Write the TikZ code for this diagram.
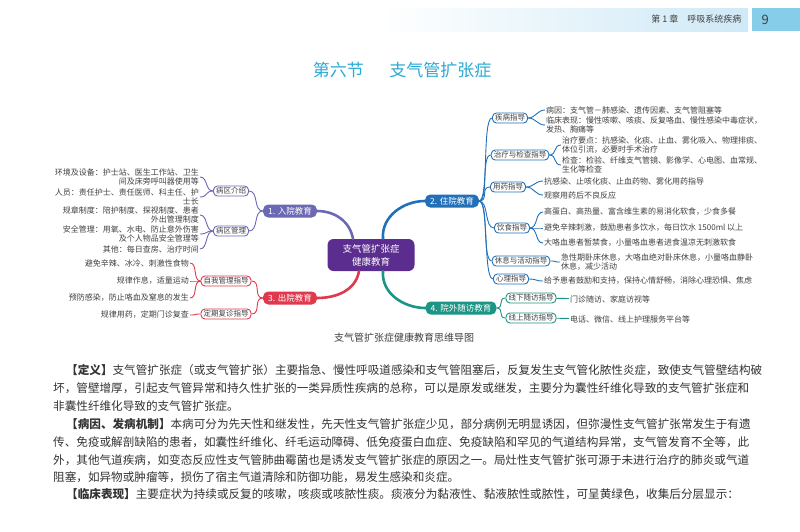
\documentclass[tikz,border=0pt]{standalone}
\usepackage{fontspec}
\setmainfont{Noto Sans CJK SC}
\usepackage{tikz}
\definecolor{hubc}{HTML}{5B2D8E}
\definecolor{onec}{HTML}{6B68B4}
\definecolor{twoc}{HTML}{2270B8}
\definecolor{threec}{HTML}{E0384C}
\definecolor{fourc}{HTML}{1B9585}
\definecolor{textc}{HTML}{404040}
\definecolor{bodyc}{HTML}{333333}
\definecolor{titlec}{HTML}{2AAAD4}
\definecolor{barc}{HTML}{CFE9F6}
\definecolor{pagec}{HTML}{86CDE9}
\tikzstyle{hub}=[rounded corners=6pt, fill=hubc, text=white, align=center, font=\fontsize{9.5}{13}\selectfont, minimum width=87pt, minimum height=32pt, inner sep=2pt]
\tikzstyle{topic}=[rounded corners=5pt, text=white, font=\fontsize{8.5}{10}\selectfont, inner xsep=5pt, inner ysep=1pt, minimum height=13pt]
\tikzstyle{subbox}=[rounded corners=4pt, draw, fill=white, line width=0.9pt, text=textc, font=\fontsize{7.5}{9}\selectfont, inner xsep=2.5pt, inner ysep=1pt, minimum height=10pt]
\tikzstyle{leafr}=[anchor=west, align=left, text=textc, font=\fontsize{8}{9}\selectfont, inner sep=1pt]
\tikzstyle{leafl}=[anchor=east, align=right, text=textc, font=\fontsize{8}{9}\selectfont, inner sep=1pt]
\tikzstyle{limb}=[line width=2.6pt, line cap=round]
\tikzstyle{twig}=[line width=0.9pt]
\tikzstyle{para}=[anchor=west, text=bodyc, font=\fontsize{11.6}{14}\selectfont, inner sep=0pt]

\begin{document}
\begin{tikzpicture}[x=1pt,y=-1pt]
\useasboundingbox (0,0) rectangle (800,531);
% header
\shade[left color=white, right color=barc] (380,8) rectangle (748,31);
\fill[pagec] (752,8) rectangle (800,31);
\node[anchor=east, text=textc, font=\fontsize{9}{10}\selectfont] (chap) at (745,19.5) {第 1 章\hspace{1em}呼吸系统疾病};
\node[anchor=west, text=textc, font=\fontsize{13}{14}\selectfont] (pg) at (758,19.5) {9};
\node[text=titlec, font=\fontsize{17}{20}\selectfont] (title) at (402,70) {第六节\hspace{1.5em}支气管扩张症};

% mind map
\node[hub] (c) at (371,255) {支气管扩张症\\健康教育};
\node[topic, fill=onec] (m1) at (290,211) {1. 入院教育};
\node[topic, fill=twoc] (m2) at (452,201) {2. 住院教育};
\node[topic, fill=threec] (m3) at (290,298) {3. 出院教育};
\node[topic, fill=fourc] (m4) at (461,308) {4. 院外随访教育};

\draw[limb, onec] ([xshift=-18pt]c.north) to[out=100, in=0] (m1.east);
\draw[limb, twoc] ([xshift=12pt]c.north) to[out=95, in=180] (m2.west);
\draw[limb, threec] ([xshift=-12pt]c.south) to[out=-100, in=0] (m3.east);
\draw[limb, fourc] ([xshift=12pt]c.south) to[out=-95, in=180] (m4.west);

% 1
\node[subbox, draw=onec] (s11) at (231,191) {病区介绍};
\node[subbox, draw=onec] (s12) at (231,231) {病区管理};
\node[leafl] (l111) at (200,177) {环境及设备：护士站、医生工作站、卫生\\间及床旁呼叫器使用等};
\node[leafl] (l112) at (200,197) {人员：责任护士、责任医师、科主任、护\\士长};
\node[leafl] (l121) at (200,215) {规章制度：陪护制度、探视制度、患者\\外出管理制度};
\node[leafl] (l122) at (200,234) {安全管理：用氧、水电、防止意外伤害\\及个人物品安全管理等};
\node[leafl] (l123) at (200,249) {其他：每日查房、治疗时间};
\foreach \s in {s11,s12}
  \draw[twig, onec] (m1.west) .. controls +(-10,0) and +(10,0) .. (\s.east);
\foreach \l in {l111,l112}
  \draw[twig, onec] (s11.west) .. controls +(-8,0) and +(8,0) .. (\l.east);
\foreach \l in {l121,l122,l123}
  \draw[twig, onec] (s12.west) .. controls +(-8,0) and +(8,0) .. (\l.east);

% 2
\node[subbox, draw=twoc] (s21) at (510,118) {疾病指导};
\node[subbox, draw=twoc] (s22) at (520,155) {治疗与检查指导};
\node[subbox, draw=twoc] (s23) at (508,187) {用药指导};
\node[subbox, draw=twoc] (s24) at (512,228) {饮食指导};
\node[subbox, draw=twoc] (s25) at (521,261) {休息与活动指导};
\node[subbox, draw=twoc] (s26) at (511,279) {心理指导};
\node[leafr] (l211) at (545,110) {病因：支气管－肺感染、遗传因素、支气管阻塞等};
\node[leafr] (l212) at (545,125) {临床表现：慢性咳嗽、咳痰、反复咯血、慢性感染中毒症状，\\发热、胸痛等};
\node[leafr] (l221) at (561,145) {治疗要点：抗感染、化痰、止血、雾化吸入、物理排痰、\\体位引流，必要时手术治疗};
\node[leafr] (l222) at (561,165) {检查：检验、纤维支气管镜、影像学、心电图、血常规、\\生化等检查};
\node[leafr] (l231) at (543,181) {抗感染、止咳化痰、止血药物、雾化用药指导};
\node[leafr] (l232) at (543,195) {观察用药后不良反应};
\node[leafr] (l241) at (543,212) {高蛋白、高热量、富含维生素的易消化软食，少食多餐};
\node[leafr] (l242) at (543,228) {避免辛辣刺激，鼓励患者多饮水，每日饮水 1500ml 以上};
\node[leafr] (l243) at (543,243) {大咯血患者暂禁食，小量咯血患者进食温凉无刺激软食};
\node[leafr] (l251) at (560,262) {急性期卧床休息，大咯血绝对卧床休息，小量咯血静卧\\休息，减少活动};
\node[leafr] (l261) at (543,281) {给予患者鼓励和支持，保持心情舒畅，消除心理恐惧、焦虑};
\foreach \s in {s21,s22,s23,s24,s25,s26}
  \draw[twig, twoc] (m2.east) .. controls +(10,0) and +(-10,0) .. (\s.west);
\foreach \s/\l in {s21/l211,s21/l212,s22/l221,s22/l222,s23/l231,s23/l232,s24/l241,s24/l242,s24/l243,s25/l251,s26/l261}
  \draw[twig, twoc] (\s.east) .. controls +(8,0) and +(-8,0) .. (\l.west);

% 3
\node[subbox, draw=threec] (s31) at (226,281) {自我管理指导};
\node[subbox, draw=threec] (s32) at (226,314) {定期复诊指导};
\node[leafl] (l311) at (190,263) {避免辛辣、冰冷、刺激性食物};
\node[leafl] (l312) at (190,281) {规律作息，适量运动};
\node[leafl] (l313) at (190,298) {预防感染，防止咯血及窒息的发生};
\node[leafl] (l321) at (190,315) {规律用药，定期门诊复查};
\foreach \s in {s31,s32}
  \draw[twig, threec] (m3.west) .. controls +(-10,0) and +(10,0) .. (\s.east);
\foreach \s/\l in {s31/l311,s31/l312,s31/l313,s32/l321}
  \draw[twig, threec] (\s.west) .. controls +(-8,0) and +(8,0) .. (\l.east);

% 4
\node[subbox, draw=fourc] (s41) at (531,298) {线下随访指导};
\node[subbox, draw=fourc] (s42) at (531,318) {线上随访指导};
\node[leafr] (l411) at (569,299) {门诊随访、家庭访视等};
\node[leafr] (l421) at (569,319) {电话、微信、线上护理服务平台等};
\foreach \s in {s41,s42}
  \draw[twig, fourc] (m4.east) .. controls +(8,0) and +(-8,0) .. (\s.west);
\draw[twig, fourc] (s41) -- (l411);
\draw[twig, fourc] (s42) -- (l421);

\node[text=textc, font=\fontsize{10}{12}\selectfont] (cap) at (404,338) {支气管扩张症健康教育思维导图};

% body text
\node[para] (p1) at (66,370) {\textbf{【定义】}支气管扩张症（或支气管扩张）主要指急、慢性呼吸道感染和支气管阻塞后，反复发生支气管化脓性炎症，致使支气管壁结构破};
\node[para] (p2) at (53,388) {坏，管壁增厚，引起支气管异常和持久性扩张的一类异质性疾病的总称，可以是原发或继发，主要分为囊性纤维化导致的支气管扩张症和};
\node[para] (p3) at (53,406) {非囊性纤维化导致的支气管扩张症。};
\node[para] (p4) at (66,424) {\textbf{【病因、发病机制】}本病可分为先天性和继发性，先天性支气管扩张症少见，部分病例无明显诱因，但弥漫性支气管扩张常发生于有遗};
\node[para] (p5) at (53,442) {传、免疫或解剖缺陷的患者，如囊性纤维化、纤毛运动障碍、低免疫蛋白血症、免疫缺陷和罕见的气道结构异常，支气管发育不全等，此};
\node[para] (p6) at (53,460) {外，其他气道疾病，如变态反应性支气管肺曲霉菌也是诱发支气管扩张症的原因之一。局灶性支气管扩张可源于未进行治疗的肺炎或气道};
\node[para] (p7) at (53,477) {阻塞，如异物或肿瘤等，损伤了宿主气道清除和防御功能，易发生感染和炎症。};
\node[para] (p8) at (66,494) {\textbf{【临床表现】}主要症状为持续或反复的咳嗽，咳痰或咳脓性痰。痰液分为黏液性、黏液脓性或脓性，可呈黄绿色，收集后分层显示：};
\end{tikzpicture}
\end{document}
